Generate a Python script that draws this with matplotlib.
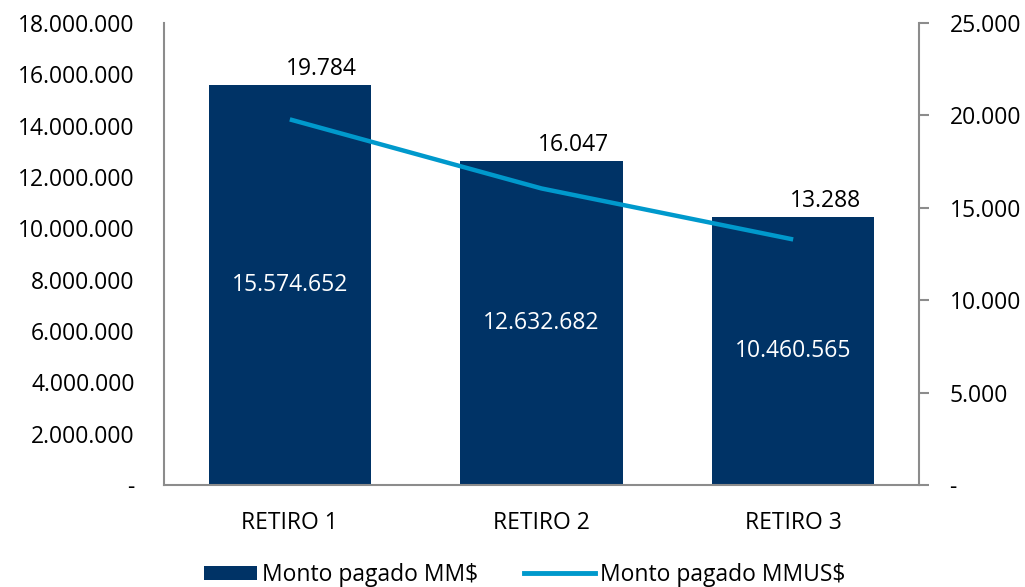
import matplotlib
matplotlib.use("Agg")
import matplotlib.pyplot as plt
from matplotlib.ticker import FuncFormatter, MultipleLocator
from matplotlib.patches import Patch, Rectangle
from matplotlib.lines import Line2D
from matplotlib.legend_handler import HandlerPatch

plt.rcParams['font.family'] = ['Open Sans', 'DejaVu Sans']

categories = ["RETIRO 1", "RETIRO 2", "RETIRO 3"]
monto_clp = [15574652, 12632682, 10460565]
monto_usd = [19784, 16047, 13288]
legend_labels = ["Monto pagado MM$", "Monto pagado MMUS$"]

bar_color = "#003366"
line_color = "#0099CC"
spine_color = "#8c8c8c"
fs = 16.5


def fmt_dots(v, pos=None):
    if abs(v) < 0.5:
        return "-"
    return f"{int(round(v)):,}".replace(",", ".")


class ShortPatch(HandlerPatch):
    def create_artists(self, legend, orig_handle, xdescent, ydescent, width, height, fontsize, trans):
        w = width * 53 / 70
        r = Rectangle((width - w - xdescent, -ydescent), w, height,
                      facecolor=orig_handle.get_facecolor(), edgecolor='none', transform=trans)
        return [r]


fig = plt.figure(figsize=(10.25, 5.87), dpi=100)
ax = fig.add_axes([164 / 1025, 1 - 485 / 587, (919 - 164) / 1025, (485 - 23) / 587])
ax2 = ax.twinx()

x = list(range(len(categories)))
bars = ax.bar(x, monto_clp, width=0.645, color=bar_color, zorder=2)
ax2.plot(x, monto_usd, color=line_color, lw=3.2, solid_capstyle='butt', zorder=3)

ax.set_xlim(-0.5, len(categories) - 0.5)
ax.set_ylim(0, 18000000)
ax2.set_ylim(0, 25000)
ax.yaxis.set_major_locator(MultipleLocator(2000000))
ax2.yaxis.set_major_locator(MultipleLocator(5000))
ax.yaxis.set_major_formatter(FuncFormatter(fmt_dots))
ax2.yaxis.set_major_formatter(FuncFormatter(fmt_dots))

ax.set_xticks(x)
ax.set_xticklabels(categories, fontsize=fs)
ax.tick_params(axis='x', length=0, pad=19)
ax.tick_params(axis='y', length=0, pad=21, labelsize=fs)
ax2.tick_params(axis='y', length=7, width=1.5, color=spine_color, pad=15, labelsize=fs, direction='out')

for a in (ax, ax2):
    a.spines['top'].set_visible(False)
    for s in ('left', 'right', 'bottom'):
        a.spines[s].set_color(spine_color)
        a.spines[s].set_linewidth(1.5)
ax2.spines['left'].set_visible(False)
ax2.spines['bottom'].set_visible(False)
ax.spines['right'].set_visible(False)

# labels
for xi, vb, vl in zip(x, monto_clp, monto_usd):
    ax.text(xi, vb / 2, fmt_dots(vb), color='white', ha='center', va='center', fontsize=fs, zorder=4)
    ax.annotate(fmt_dots(vl), (xi, vb), xytext=(32, 4), textcoords='offset pixels',
                ha='center', va='bottom', fontsize=fs, color='black', zorder=4)

handles = [Patch(facecolor=bar_color, edgecolor='none'),
           Line2D([0], [0], color=line_color, lw=3.5)]
fig.legend(handles, legend_labels, loc='center', bbox_to_anchor=(516 / 1025, 1 - 575 / 587),
           ncol=2, frameon=False, fontsize=fs, handlelength=3.1, handleheight=0.62,
           handletextpad=0.22, columnspacing=2.0, borderaxespad=0, borderpad=0,
           handler_map={Patch: ShortPatch()})

fig.savefig("out.png", dpi=100)
